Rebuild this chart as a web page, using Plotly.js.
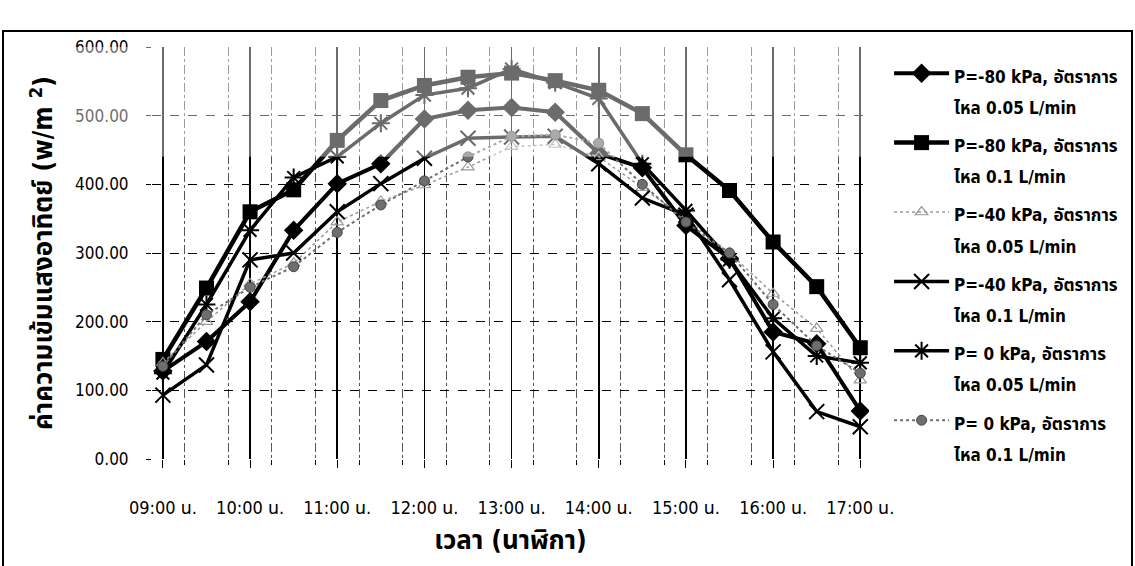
<!DOCTYPE html>
<html>
<head>
<meta charset="utf-8">
<script src="https://cdn.plot.ly/plotly-3.0.1.min.js"></script>
<style>
  html, body { margin: 0; padding: 0; background: #fff; }
  #chart { width: 1135px; height: 566px; position: relative; }
  #frame { position: absolute; left: 2px; top: 30px; width: 1127px; height: 545px;
           border: 2px solid #000; pointer-events: none; }
</style>
</head>
<body>
<div id="chart"></div>
<div id="frame"></div>
<script>
// ---- data ----
const timeSlots = ["09:00","09:30","10:00","10:30","11:00","11:30","12:00","12:30","13:00",
                   "13:30","14:00","14:30","15:00","15:30","16:00","16:30","17:00"];
const hourTickLabels = ["09:00 น.","10:00 น.","11:00 น.","12:00 น.","13:00 น.",
                        "14:00 น.","15:00 น.","16:00 น.","17:00 น."];
const seriesNames = [
  "P=-80 kPa, อัตราการ<br>ไหล 0.05 L/min",
  "P=-80 kPa, อัตราการ<br>ไหล 0.1 L/min",
  "P=-40 kPa, อัตราการ<br>ไหล 0.05 L/min",
  "P=-40 kPa, อัตราการ<br>ไหล 0.1 L/min",
  "P= 0 kPa, อัตราการ<br>ไหล 0.05 L/min",
  "P= 0 kPa, อัตราการ<br>ไหล 0.1 L/min"
];
const p80_005 = [128, 171, 229, 333, 401, 430, 495, 508, 512, 505, 445, 424, 340, 292, 185, 168, 70];
const p80_01  = [145, 249, 360, 392, 464, 522, 544, 556, 562, 551, 537, 503, 443, 391, 316, 251, 162];
const p40_005 = [140, 200, 255, 285, 345, 375, 399, 425, 455, 458, 440, 395, 350, 300, 241, 190, 115];
const p40_01  = [93, 137, 290, 300, 360, 401, 438, 467, 469, 470, 430, 380, 355, 261, 156, 69, 47];
const p0_005  = [125, 225, 333, 410, 440, 489, 530, 540, 568, 548, 525, 430, 362, 290, 205, 150, 140];
const p0_01   = [135, 210, 250, 280, 330, 370, 405, 440, 470, 472, 460, 400, 345, 300, 225, 165, 125];

const idx = timeSlots.map((_, i) => i);
const FONT = "Tahoma, 'DejaVu Sans Condensed', 'Noto Sans Thai', 'Noto Sans', sans-serif";
const leg = s => '<span style="font-size:17px">' + s.replace('<br>', '</span><br><span style="font-size:17px">') + '</span>';

function tr(k, name, y, sym, size, color, width, dash, mline) {
  return {
    type: 'scatter', mode: 'lines+markers', x: idx, y: y, name: leg(name),
    legendgroup: 'g' + k,
    line: {color: color, width: width, dash: dash},
    marker: {symbol: sym, size: size, color: color, line: mline || {width: 0}}
  };
}
const data = [
  tr(0, seriesNames[0], p80_005, 'diamond', 15, '#000', 4, 'solid'),
  tr(1, seriesNames[1], p80_01, 'square', 15, '#000', 4.5, 'solid'),
  tr(2, seriesNames[2], p40_005, 'triangle-up-open', 11, '#9a9a9a', 1.5, 'dot', {width: 1.2, color: '#777'}),
  tr(3, seriesNames[3], p40_01, 'x-thin-open', 15, '#000', 3.5, 'solid', {width: 2, color: '#000'}),
  tr(4, seriesNames[4], p0_005, 'asterisk-open', 15, '#000', 3.5, 'solid', {width: 2, color: '#000'}),
  tr(5, seriesNames[5], p0_01, 'circle', 10, '#6e6e6e', 2, 'dot', {width: 1, color: '#444'})
];

const hourVals = idx.filter(i => i % 2 === 0);
const halfHourVals = idx.filter(i => i % 2 === 1);
const quarterVals = idx.slice(0, -1).map(i => i + 0.5);

const layout = {
  width: 1135, height: 566,
  margin: {l: 152, r: 263, t: 47, b: 107},
  paper_bgcolor: '#fff', plot_bgcolor: '#fff',
  font: {family: FONT, color: '#000'},
  showlegend: true,
  legend: {
    x: 1.028, y: 0.99, xanchor: 'left', yanchor: 'top',
    font: {family: FONT, size: 24, color: '#000', weight: 'bold'},
    itemwidth: 55, valign: 'top', tracegroupgap: 4, traceorder: 'grouped',
    bgcolor: 'rgba(0,0,0,0)'
  },
  xaxis: {
    range: [-0.25, 16.2],
    tickmode: 'array', tickvals: hourVals, ticktext: hourTickLabels,
    showgrid: true, gridcolor: '#000', gridwidth: 1.6,
    ticks: 'outside', ticklen: 8, tickcolor: '#000', tickwidth: 1,
    ticklabelstandoff: 24,
    tickfont: {family: FONT, size: 18, color: '#000'},
    minor: {tickvals: quarterVals, showgrid: true, gridcolor: '#555', griddash: 'dashdot', gridwidth: 1,
            ticks: 'outside', ticklen: 5, tickcolor: '#000'},
    zeroline: false, showline: false,
    title: {text: 'เวลา (นาฬิกา)', font: {family: FONT, size: 26, color: '#000', weight: 'bold'}, standoff: 14}
  },
  xaxis2: {
    overlaying: 'x', matches: 'x', anchor: 'y', side: 'bottom',
    tickmode: 'array', tickvals: halfHourVals, showticklabels: false,
    showgrid: true, gridcolor: '#000', gridwidth: 1.6,
    ticks: 'outside', ticklen: 8, tickcolor: '#000',
    zeroline: false, showline: false
  },
  yaxis: {
    range: [0, 600], dtick: 100, tickformat: '.2f',
    showgrid: true, gridcolor: '#000', gridwidth: 1, griddash: 'dash',
    ticks: 'outside', ticklen: 5, tickcolor: '#000',
    ticklabelstandoff: 14,
    tickfont: {family: FONT, size: 17, color: '#000'},
    zeroline: false, showline: false,
    title: {text: 'ค่าความเข้มแสงอาทิตย์ (w/m <sup>2</sup>)', font: {family: FONT, size: 26, color: '#000', weight: 'bold'}, standoff: 14}
  },
  shapes: [
    // faint watermark band that greys the upper part of the scanned figure
    {type: 'rect', xref: 'paper', yref: 'y', x0: -0.13, x1: 1.0, y0: 440, y1: 620,
     fillcolor: 'rgba(255,255,255,0.42)', line: {width: 0}, layer: 'above'}
  ]
};

Plotly.newPlot('chart', data, layout, {displayModeBar: false, staticPlot: true});
</script>
</body>
</html>
